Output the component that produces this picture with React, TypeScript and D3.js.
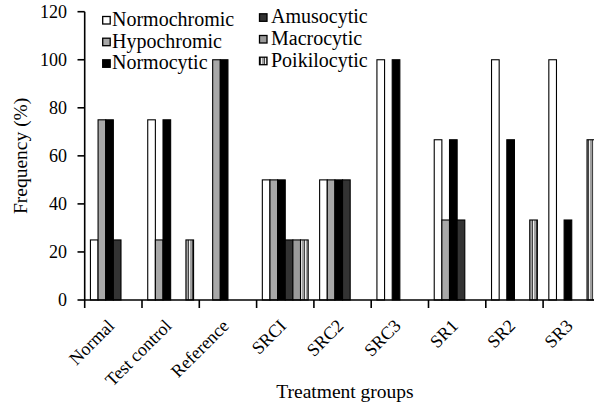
import React from "react";
import * as d3 from "d3";

const categories = ["Normal", "Test control", "Reference", "SRCI", "SRC2", "SRC3", "SR1", "SR2", "SR3"];
const seriesNames = ["Normochromic", "Hypochromic", "Normocytic", "Amusocytic", "Macrocytic", "Poikilocytic"];
const normochromic = [25, 75, 0, 50, 50, 100, 66.7, 100, 100];
const hypochromic = [75, 25, 100, 50, 50, 0, 33.3, 0, 0];
const normocytic = [75, 75, 100, 50, 50, 100, 66.7, 66.7, 33.3];
const amusocytic = [25, 0, 0, 25, 50, 0, 33.3, 0, 0];
const macrocytic = [0, 0, 0, 25, 0, 0, 0, 0, 0];
const poikilocytic = [0, 25, 0, 25, 0, 0, 0, 33.3, 66.7];
const yTicks = [0, 20, 40, 60, 80, 100, 120];

const seriesValues = [normochromic, hypochromic, normocytic, amusocytic, macrocytic, poikilocytic];
const fills = ["#ffffff", "#a8a8a8", "#000000", "#333333", "#9a9a9a", "url(#poik)"];

const W = 594;
const H = 404;

export default function App() {
  const x0 = d3.scaleBand<string>().domain(categories).range([84.7, 600.4]).paddingInner(0).paddingOuter(0);
  const x1 = d3.scaleBand<string>().domain(seriesNames).range([0, x0.bandwidth()]).paddingInner(0).paddingOuter(0.75);
  const y = d3.scaleLinear().domain([0, 120]).range([300, 11.7]);

  const bars: any[] = [];
  seriesValues.forEach((vals, si) => {
    vals.forEach((v, ci) => {
      if (v <= 0) return;
      bars.push({ si, ci, v });
    });
  });

  const boundaries = categories.map((c) => x0(c) as number).concat([(x0(categories[categories.length - 1]) as number) + x0.bandwidth()]);

  const legendCols = [
    { sx: 102.7, tx: 112, baselines: [26, 47.7, 69.3] },
    { sx: 259.5, tx: 271, baselines: [23.3, 45, 66.7] },
  ];

  return (
    <svg
      width={W}
      height={H}
      style={{ position: "absolute", left: 0, top: 0, background: "#fff", fontFamily: "Liberation Serif, serif" }}
    >
      <defs>
        <pattern id="poik" patternUnits="userSpaceOnUse" width={4} height={4}>
          <rect x={0} y={0} width={4} height={4} fill="#a0a0a0" />
          <rect x={0} y={0} width={1} height={4} fill="#444444" />
          <rect x={1} y={0} width={1} height={4} fill="#f0f0f0" />
        </pattern>
      </defs>
      <rect x={0} y={0} width={W} height={H} fill="#fff" />

      {bars.map((b, i) => {
        const bx = (x0(categories[b.ci]) as number) + (x1(seriesNames[b.si]) as number);
        return (
          <rect
            key={i}
            x={bx}
            y={y(b.v)}
            width={x1.bandwidth()}
            height={y(0) - y(b.v)}
            fill={fills[b.si]}
            stroke="#000"
            strokeWidth={1.1}
          />
        );
      })}

      <line x1={84.7} x2={84.7} y1={y(120)} y2={y(0)} stroke="#000" strokeWidth={1.6} />
      {yTicks.map((t) => (
        <g key={t}>
          <line x1={77.5} x2={84.7} y1={y(t)} y2={y(t)} stroke="#000" strokeWidth={1.6} />
          <text x={67} y={y(t)} dy="0.35em" textAnchor="end" fontSize={18}>
            {t}
          </text>
        </g>
      ))}

      <line x1={84} x2={600} y1={y(0)} y2={y(0)} stroke="#000" strokeWidth={1.6} />
      {boundaries.map((bx, i) => (
        <line key={i} x1={bx} x2={bx} y1={y(0)} y2={y(0) + 8} stroke="#000" strokeWidth={1.6} />
      ))}
      {categories.map((c) => {
        const cx = (x0(c) as number) + x0.bandwidth() / 2 + 2;
        return (
          <text key={c} transform={`translate(${cx},${y(0) + 27}) rotate(-45)`} textAnchor="end" fontSize={18}>
            {c}
          </text>
        );
      })}

      <text x={345} y={398} textAnchor="middle" fontSize={19.5}>
        Treatment groups
      </text>
      <text transform={`translate(27,${(y(0) + y(120)) / 2}) rotate(-90)`} textAnchor="middle" fontSize={19.5}>
        Frequency (%)
      </text>

      {seriesNames.map((s, i) => {
        const col = legendCols[Math.floor(i / 3)];
        const bl = col.baselines[i % 3];
        return (
          <g key={s}>
            <rect x={col.sx} y={bl - 9.5} width={7.5} height={7.5} fill={fills[i]} stroke="#000" strokeWidth={1.3} />
            <text x={col.tx} y={bl} fontSize={20}>
              {s}
            </text>
          </g>
        );
      })}
    </svg>
  );
}
